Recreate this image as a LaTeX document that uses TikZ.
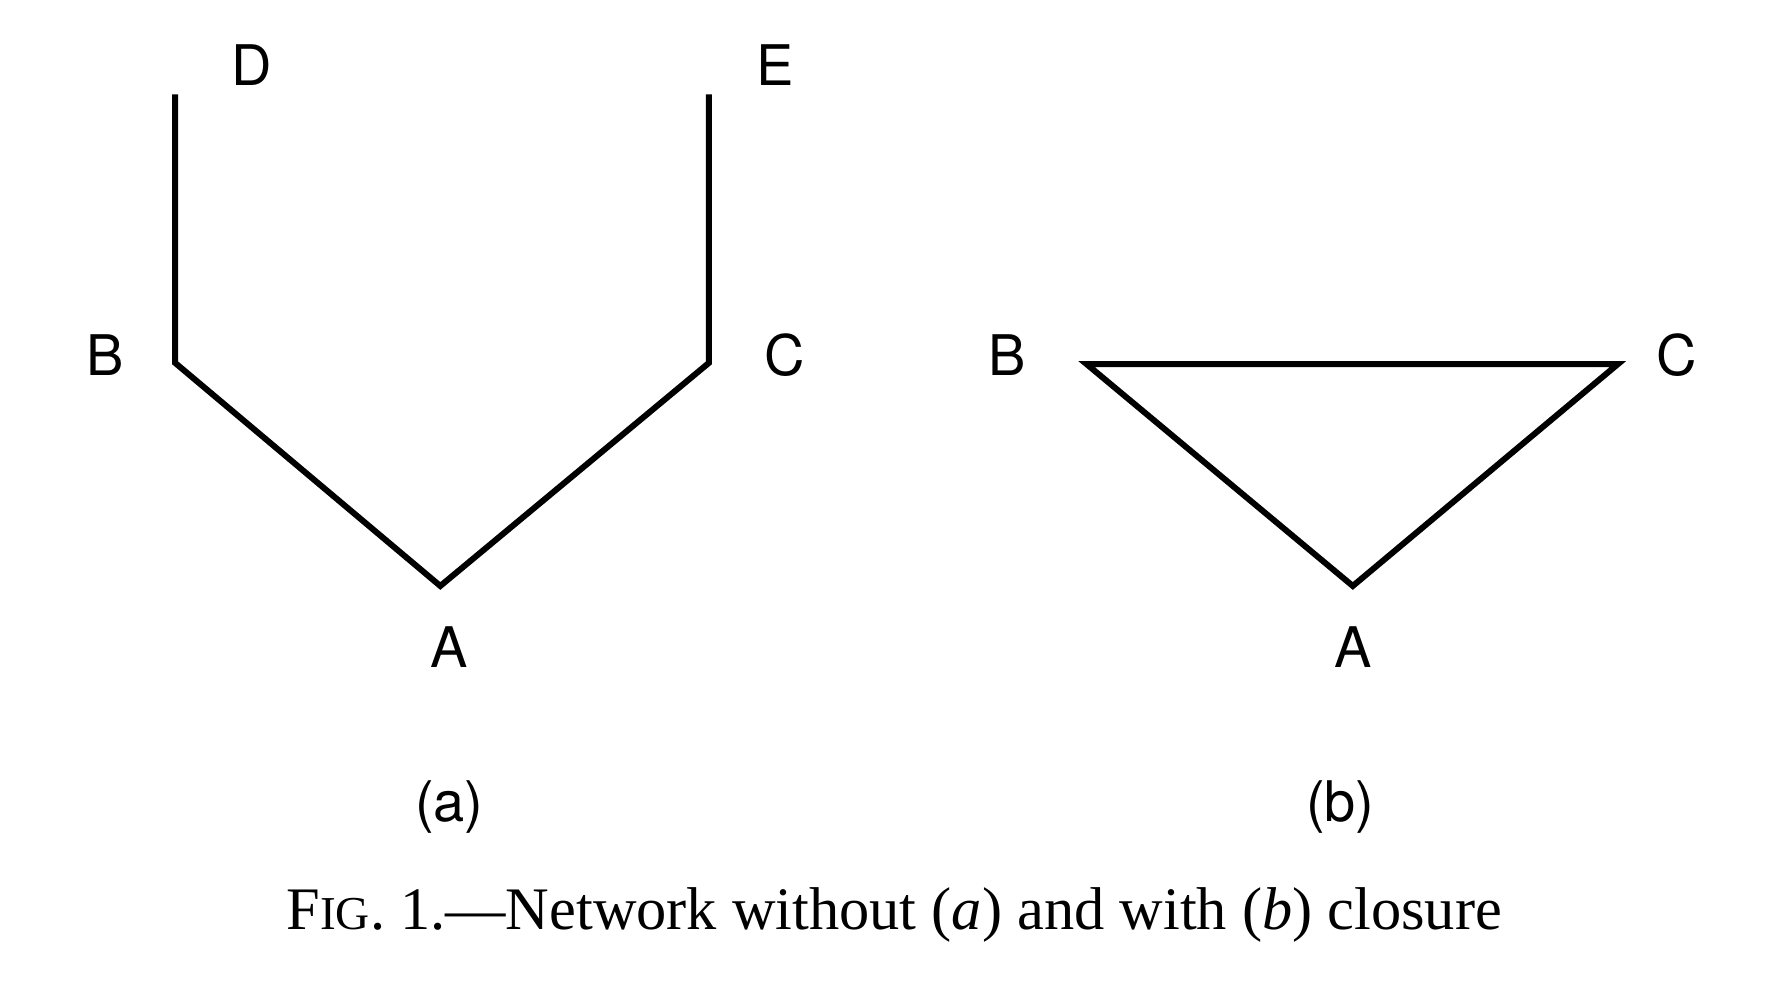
\documentclass[tikz,border=0pt]{standalone}
\usepackage{fontspec}
\setmainfont{Liberation Serif}
\setsansfont{TeX Gyre Heros}
\usetikzlibrary{positioning}

\begin{document}
\begin{tikzpicture}[
    edge/.style={black, line width=1.5pt},
    lbl/.style={font=\sffamily\fontsize{14}{16}\selectfont, inner sep=0pt},
    figcaption/.style={font=\fontsize{15.1}{18}\selectfont, inner sep=0pt}
  ]
  \useasboundingbox (0,0) rectangle (15.68,-8.74);
  % (a) network without closure
  \coordinate (aD) at ( 1.54,-0.83);
  \coordinate (aB) at ( 1.54,-3.19);
  \coordinate (aA) at ( 3.87,-5.15);
  \coordinate (aC) at ( 6.23,-3.19);
  \coordinate (aE) at ( 6.23,-0.83);
  \node[lbl] (laD) at ( 2.21,-0.57) {D};
  \node[lbl] (laE) at ( 6.81,-0.57) {E};
  \node[lbl] (laB) at ( 0.92,-3.12) {B};
  \node[lbl] (laC) at ( 6.90,-3.12) {C};
  \node[lbl] (laA) at ( 3.95,-5.69) {A};
  \node[lbl] (sa)  at ( 3.95,-7.09) {(a)};
  \draw[edge] (aD) -- (aB) -- (aA) -- (aC) -- (aE);
  % (b) network with closure
  \coordinate (bB) at ( 9.55,-3.20);
  \coordinate (bC) at (14.22,-3.20);
  \coordinate (bA) at (11.89,-5.15);
  \node[lbl] (lbB) at ( 8.85,-3.12) {B};
  \node[lbl] (lbC) at (14.74,-3.12) {C};
  \node[lbl] (lbA) at (11.89,-5.69) {A};
  \node[lbl] (sb)  at (11.78,-7.09) {(b)};
  \draw[edge] (bB) -- (bC) -- (bA) -- cycle;
  % caption
  \node[figcaption] (caption) at (7.86,-8.04)
     {F{\fontsize{11.8}{14}\selectfont IG}. 1.---Network without (\textit{a}) and with (\textit{b}) closure};
\end{tikzpicture}
\end{document}
